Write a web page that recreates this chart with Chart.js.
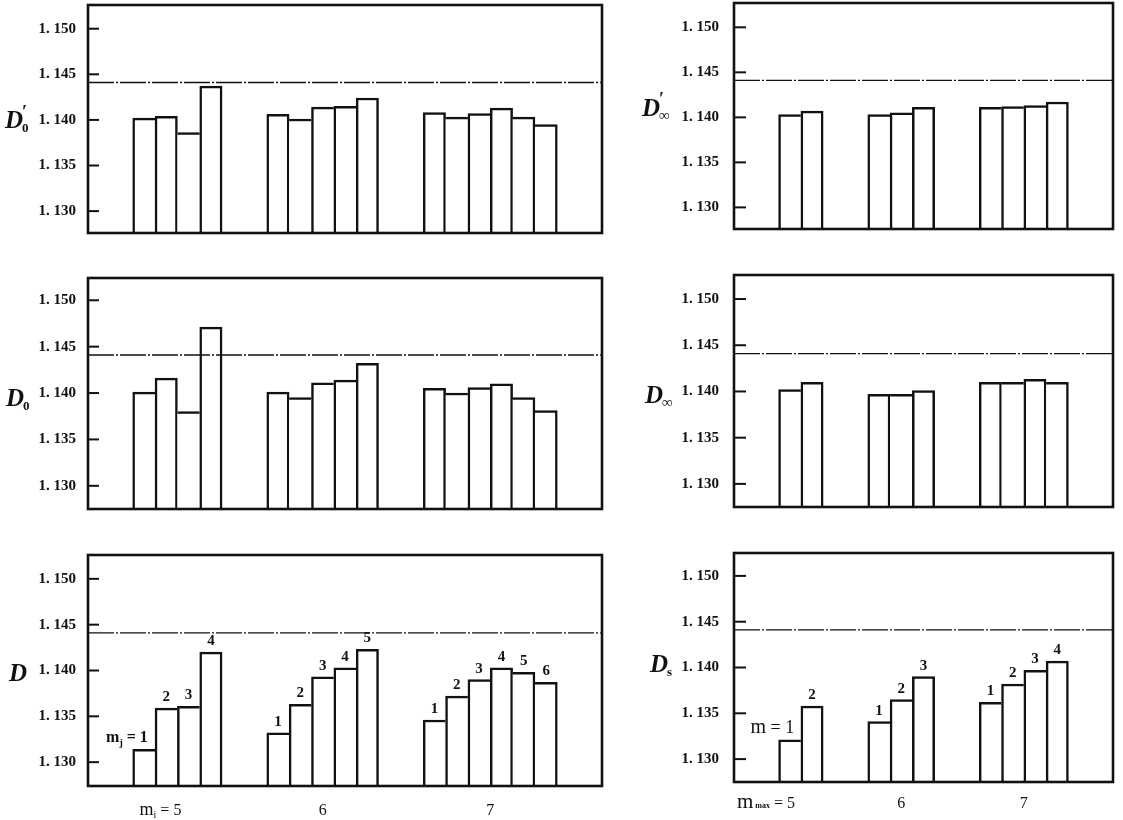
<!DOCTYPE html>
<html lang="en">
  <head>
    <meta charset="UTF-8" />
    <script src="https://cdn.jsdelivr.net/npm/chart.js"></script>
    <title>D factors</title>
    <style>
      body { margin: 0; background: #fff; }
      #root { position: relative; width: 1123px; height: 820px; overflow: hidden; background: #fff; }
      #root canvas { position: absolute; }
    </style>
  </head>
  <body>
    <div id="root"></div>

    <script>
      // values, one inner array per group (5, 6, 7)
      const groupNames = ['5', '6', '7']
      const yTicks = [1.13, 1.135, 1.14, 1.145, 1.15]
      const refLine = 1.1441

      const d0Prime = [
        [1.1402, 1.1404, 1.1386, 1.1437],
        [1.1406, 1.1401, 1.1414, 1.1415, 1.1424],
        [1.1408, 1.1403, 1.1407, 1.1413, 1.1403, 1.1395],
      ]
      const d0 = [
        [1.1401, 1.1416, 1.138, 1.1471],
        [1.1401, 1.1395, 1.1411, 1.1414, 1.1432],
        [1.1405, 1.14, 1.1406, 1.141, 1.1395, 1.1381],
      ]
      const dMj = [
        [1.1314, 1.1359, 1.1361, 1.142],
        [1.1332, 1.1363, 1.1393, 1.1403, 1.1423],
        [1.1346, 1.1372, 1.139, 1.1403, 1.1398, 1.1387],
      ]
      const dInfPrime = [
        [1.1403, 1.1407],
        [1.1403, 1.1405, 1.1411],
        [1.1411, 1.1412, 1.1413, 1.1417],
      ]
      const dInf = [
        [1.1402, 1.141],
        [1.1397, 1.1397, 1.1401],
        [1.141, 1.141, 1.1413, 1.141],
      ]
      const dS = [
        [1.1321, 1.1358],
        [1.1341, 1.1365, 1.139],
        [1.1362, 1.1382, 1.1397, 1.1407],
      ]

      const serif = "'Liberation Serif', 'DejaVu Serif', serif"
      const ink = '#111'
      const W = 2.5

      // two empty slots before every group and after the last one
      const buildSlots = (groups) => {
        const labels = []
        const values = []
        const centers = []
        const gap = () => {
          labels.push('', '')
          values.push(null, null)
        }
        groups.forEach((g) => {
          gap()
          centers.push(labels.length + (g.length - 1) / 2)
          g.forEach((v, i) => {
            labels.push(String(i + 1))
            values.push(v)
          })
        })
        gap()
        return { labels, values, centers }
      }

      // the shared edge between two bars belongs to the taller one
      const edges = (ctx) => {
        const d = ctx.dataset.data
        const i = ctx.dataIndex
        const v = d[i]
        const prev = d[i - 1]
        const next = d[i + 1]
        return {
          top: W,
          bottom: 0,
          left: prev == null || v > prev ? W : 0,
          right: next == null || v >= next ? W : 0,
        }
      }

      const drawParts = (ctx, parts, x, y, mode) => {
        const widths = parts.map(([t, f]) => {
          ctx.font = f
          return ctx.measureText(t).width
        })
        const total = widths.reduce((a, b) => a + b, 0)
        let cx = mode === 'start' ? x : x - total + widths[widths.length - 1] / 2
        ctx.textAlign = 'left'
        ctx.textBaseline = 'alphabetic'
        parts.forEach(([t, f, dy], k) => {
          ctx.font = f
          ctx.fillText(t, cx, y + (dy || 0))
          cx += widths[k]
        })
      }

      const drawTitle = (ctx, x, y, t) => {
        ctx.textAlign = 'left'
        ctx.textBaseline = 'middle'
        ctx.font = `italic bold 25px ${serif}`
        ctx.fillText('D', x, y)
        const w = ctx.measureText('D').width
        if (t.prime) {
          ctx.font = `bold 18px ${serif}`
          ctx.fillText('\u2032', x + w - 1, y - 9)
        }
        if (t.sub) {
          ctx.font = `bold ${t.sub === '\u221e' ? 15 : 13}px ${serif}`
          ctx.fillText(t.sub, x + w - 1, y + 7)
        }
      }

      const makePlugin = (cfg, centers) => ({
        id: 'panel',
        afterDatasetsDraw(chart) {
          const { ctx, chartArea: a, scales: { y } } = chart
          const ry = y.getPixelForValue(refLine)
          ctx.save()
          ctx.strokeStyle = ink
          ctx.lineWidth = 1.3
          ctx.setLineDash([26, 2, 2, 2])
          ctx.beginPath()
          ctx.moveTo(a.left, ry)
          ctx.lineTo(a.right, ry)
          ctx.stroke()
          ctx.restore()
        },
        afterDraw(chart) {
          const { ctx, chartArea: a, scales: { x, y } } = chart
          ctx.save()
          ctx.strokeStyle = ink
          ctx.fillStyle = ink
          ctx.lineWidth = 2.6
          ctx.strokeRect(a.left, a.top, a.right - a.left, a.bottom - a.top)
          ctx.lineWidth = 2
          yTicks.forEach((v) => {
            const p = y.getPixelForValue(v)
            ctx.beginPath()
            ctx.moveTo(a.left, p)
            ctx.lineTo(a.left + cfg.tick, p)
            ctx.stroke()
          })
          drawTitle(ctx, cfg.titleX, y.getPixelForValue(1.14) + cfg.titleDy, cfg.title)

          if (cfg.barPrefix) {
            const meta = chart.getDatasetMeta(0)
            const data = chart.data.datasets[0].data
            const first = data.findIndex((v) => v != null)
            const numFont = `bold 15px ${serif}`
            data.forEach((v, i) => {
              if (v == null) return
              const bar = meta.data[i]
              const num = [chart.data.labels[i], i === first ? cfg.prefixNumFont : numFont]
              const parts = i === first ? [...cfg.barPrefix, num] : [num]
              drawParts(ctx, parts, bar.x, bar.y - 7, 'center')
            })
          }

          if (cfg.groupPrefix) {
            const numFont = `16px ${serif}`
            centers.forEach((c, k) => {
              const num = [groupNames[k], numFont]
              if (k === 0) {
                const parts = [...cfg.groupPrefix, num]
                if (cfg.firstStart) drawParts(ctx, parts, a.left + 3, cfg.groupY, 'start')
                else drawParts(ctx, parts, x.getPixelForValue(c), cfg.groupY, 'center')
              } else {
                drawParts(ctx, [num], x.getPixelForValue(c), cfg.groupY, 'center')
              }
            })
          }
          ctx.restore()
        },
      })

      const panels = [
        { groups: d0Prime, left: 0, top: 0, w: 612, h: 250, padTop: 5, xh: 17, yw: 88, tickPad: 4, tick: 11, min: 1.1276, max: 1.1526,
          title: { prime: true, sub: '0' }, titleX: 5, titleDy: 2 },
        { groups: d0, left: 0, top: 260, w: 612, h: 270, padTop: 18, xh: 21, yw: 88, tickPad: 4, tick: 11, min: 1.1275, max: 1.1524,
          title: { sub: '0' }, titleX: 6, titleDy: 7 },
        { groups: dMj, left: 0, top: 540, w: 612, h: 280, padTop: 15, xh: 34, yw: 88, tickPad: 4, tick: 11, min: 1.1274, max: 1.1526,
          title: {}, titleX: 9, titleDy: 4,
          barPrefix: [['m', `bold 16px ${serif}`], ['j', `bold 10px ${serif}`, 4], [' = ', `bold 16px ${serif}`]],
          prefixNumFont: `bold 16px ${serif}`,
          groupPrefix: [['m', `18px ${serif}`], ['i', `10px ${serif}`, 3], [' = ', `16px ${serif}`]],
          groupY: 275 },
        { groups: dInfPrime, left: 640, top: 0, w: 483, h: 250, padTop: 3, xh: 21, yw: 94, tickPad: 7, tick: 12, min: 1.1276, max: 1.1527,
          title: { prime: true, sub: '\u221e' }, titleX: 2, titleDy: -8 },
        { groups: dInf, left: 640, top: 260, w: 483, h: 270, padTop: 15, xh: 23, yw: 94, tickPad: 7, tick: 12, min: 1.1275, max: 1.1526,
          title: { sub: '\u221e' }, titleX: 5, titleDy: 5 },
        { groups: dS, left: 640, top: 540, w: 483, h: 280, padTop: 13, xh: 38, yw: 94, tickPad: 7, tick: 12, min: 1.1275, max: 1.1525,
          title: { sub: 's' }, titleX: 10, titleDy: -2,
          barPrefix: [['m', `20px ${serif}`], [' = ', `18px ${serif}`]],
          prefixNumFont: `18px ${serif}`,
          groupPrefix: [['m', `21px ${serif}`], [' max', `bold 8px ${serif}`], [' = ', `16px ${serif}`]],
          groupY: 268, firstStart: true },
      ]

      const root = document.getElementById('root')
      panels.forEach((cfg) => {
        const canvas = document.createElement('canvas')
        canvas.width = cfg.w
        canvas.height = cfg.h
        canvas.style.left = cfg.left + 'px'
        canvas.style.top = cfg.top + 'px'
        canvas.style.width = cfg.w + 'px'
        canvas.style.height = cfg.h + 'px'
        root.appendChild(canvas)

        const { labels, values, centers } = buildSlots(cfg.groups)

        new Chart(canvas, {
          type: 'bar',
          data: {
            labels,
            datasets: [
              {
                data: values,
                backgroundColor: '#fff',
                borderColor: ink,
                borderWidth: edges,
                borderSkipped: 'bottom',
                barPercentage: 1,
                categoryPercentage: 1,
              },
            ],
          },
          options: {
            responsive: false,
            animation: false,
            devicePixelRatio: 1,
            layout: { padding: { top: cfg.padTop, right: 10, bottom: 0, left: 0 } },
            plugins: { legend: { display: false }, tooltip: { enabled: false } },
            scales: {
              x: {
                ticks: { display: false },
                grid: { display: false },
                border: { display: false },
                afterFit: (s) => {
                  s.height = cfg.xh
                  s.paddingLeft = 0
                  s.paddingRight = 0
                },
              },
              y: {
                min: cfg.min,
                max: cfg.max,
                afterBuildTicks: (s) => {
                  s.ticks = yTicks.map((v) => ({ value: v }))
                },
                ticks: {
                  padding: cfg.tickPad,
                  color: ink,
                  font: { family: serif, size: 15, weight: 'bold' },
                  callback: (v) => v.toFixed(3).replace('.', '. '),
                },
                grid: { display: false },
                border: { display: false },
                afterFit: (s) => {
                  s.width = cfg.yw
                  s.paddingTop = 0
                  s.paddingBottom = 0
                },
              },
            },
          },
          plugins: [makePlugin(cfg, centers)],
        })
      })
    </script>
  </body>
</html>
